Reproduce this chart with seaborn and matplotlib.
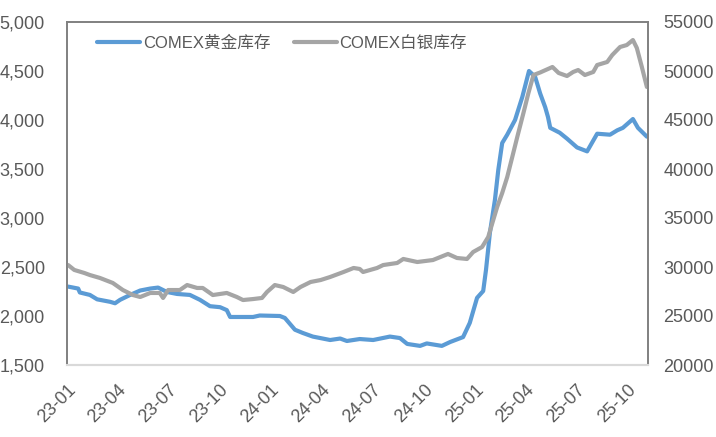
import pandas as pd
import matplotlib.pyplot as plt
import matplotlib.dates as mdates
import matplotlib.ticker as mticker
import seaborn as sns

# COMEX gold inventory (left axis)
gold_dates = [
    "2023-01-03", "2023-01-21", "2023-01-24", "2023-02-11", "2023-02-24", "2023-03-19",
    "2023-03-28", "2023-04-06", "2023-04-24", "2023-05-12", "2023-05-30", "2023-06-13",
    "2023-06-29", "2023-07-17", "2023-08-09", "2023-08-27", "2023-09-14", "2023-10-02",
    "2023-10-14", "2023-10-20", "2023-11-30", "2023-12-12", "2024-01-17", "2024-01-26",
    "2024-02-13", "2024-02-27", "2024-03-16", "2024-04-16", "2024-05-04", "2024-05-16",
    "2024-06-08", "2024-07-02", "2024-08-01", "2024-08-19", "2024-09-01", "2024-09-24",
    "2024-10-06", "2024-11-02", "2024-11-17", "2024-12-10", "2024-12-22", "2025-01-04",
    "2025-01-15", "2025-01-20", "2025-01-27", "2025-02-05", "2025-02-11", "2025-02-18",
    "2025-02-27", "2025-03-13", "2025-03-26", "2025-04-07", "2025-04-18", "2025-04-27",
    "2025-05-06", "2025-05-11", "2025-05-15", "2025-06-01", "2025-06-14", "2025-07-02",
    "2025-07-20", "2025-08-07", "2025-08-30", "2025-09-12", "2025-09-22", "2025-10-10",
    "2025-10-19", "2025-11-04",
]
gold_values = [
    2300, 2280, 2240, 2215, 2170, 2145,
    2130, 2165, 2215, 2260, 2280, 2290,
    2245, 2225, 2215, 2165, 2100, 2090,
    2060, 1990, 1990, 2005, 2000, 1980,
    1860, 1827, 1790, 1755, 1770, 1745,
    1765, 1755, 1790, 1775, 1715, 1695,
    1720, 1695, 1735, 1785, 1930, 2185,
    2255, 2470, 2850, 3185, 3490, 3765,
    3850, 4000, 4235, 4500, 4440, 4270,
    4130, 4030, 3920, 3870, 3810, 3720,
    3680, 3860, 3850, 3895, 3920, 4010,
    3920, 3830,
]

# COMEX silver inventory (right axis)
silver_dates = [
    "2023-01-03", "2023-01-14", "2023-02-01", "2023-02-11", "2023-03-01", "2023-03-24",
    "2023-04-11", "2023-04-29", "2023-05-12", "2023-05-30", "2023-06-16", "2023-06-22",
    "2023-07-01", "2023-07-22", "2023-08-04", "2023-08-22", "2023-09-01", "2023-09-19",
    "2023-10-14", "2023-11-01", "2023-11-12", "2023-11-30", "2023-12-16", "2023-12-25",
    "2024-01-08", "2024-01-23", "2024-02-10", "2024-02-23", "2024-03-12", "2024-03-30",
    "2024-04-16", "2024-05-10", "2024-05-28", "2024-06-08", "2024-06-14", "2024-07-09",
    "2024-07-20", "2024-08-14", "2024-08-25", "2024-09-19", "2024-10-17", "2024-11-13",
    "2024-11-29", "2024-12-17", "2024-12-28", "2025-01-13", "2025-01-24", "2025-02-02",
    "2025-02-09", "2025-02-18", "2025-02-27", "2025-03-08", "2025-03-17", "2025-03-28",
    "2025-04-06", "2025-04-15", "2025-04-27", "2025-05-19", "2025-05-30", "2025-06-14",
    "2025-06-25", "2025-07-04", "2025-07-16", "2025-07-31", "2025-08-07", "2025-08-25",
    "2025-09-03", "2025-09-17", "2025-09-29", "2025-10-10", "2025-10-17", "2025-10-26",
    "2025-11-04",
]
silver_values = [
    30200, 29700, 29390, 29180, 28880, 28370,
    27650, 27140, 26940, 27350, 27350, 26840,
    27650, 27650, 28160, 27860, 27860, 27140,
    27350, 26940, 26630, 26730, 26840, 27450,
    28160, 27960, 27450, 27960, 28470, 28670,
    28980, 29490, 29900, 29800, 29490, 29900,
    30200, 30410, 30820, 30510, 30710, 31330,
    30920, 30820, 31530, 32040, 33060, 34800,
    36120, 37550, 39180, 41220, 43270, 45710,
    47760, 49590, 49850, 50410, 49800, 49490,
    49900, 50100, 49590, 49900, 50610, 50920,
    51630, 52450, 52650, 53160, 52350, 50410,
    48370,
]

gold_label = "COMEX黄金库存"
silver_label = "COMEX白银库存"

gold_df = pd.DataFrame({"date": pd.to_datetime(gold_dates), "value": gold_values})
silver_df = pd.DataFrame({"date": pd.to_datetime(silver_dates), "value": silver_values})

sns.set_style("white")
plt.rcParams["font.family"] = ["Liberation Sans", "Noto Sans CJK SC", "DejaVu Sans"]

tick_color = "#595959"
fig = plt.figure(figsize=(7.16, 4.37), dpi=100)
ax = fig.add_axes([67 / 716, 1 - 365 / 437, (648 - 67) / 716, (365 - 22) / 437])
ax2 = ax.twinx()

sns.lineplot(data=gold_df, x="date", y="value", ax=ax, color="#5B9BD5",
             linewidth=3, label=gold_label, legend=False)
sns.lineplot(data=silver_df, x="date", y="value", ax=ax2, color="#A5A5A5",
             linewidth=3, label=silver_label, legend=False)

ax.set_xlim(pd.Timestamp("2023-01-01"), pd.Timestamp("2025-11-06"))
ax.set_ylim(1500, 5000)
ax2.set_ylim(20000, 55000)
ax.yaxis.set_major_locator(mticker.MultipleLocator(500))
ax.yaxis.set_major_formatter(mticker.StrMethodFormatter("{x:,.0f}"))
ax2.yaxis.set_major_locator(mticker.MultipleLocator(5000))
ax2.yaxis.set_major_formatter(mticker.StrMethodFormatter("{x:.0f}"))

ax.xaxis.set_major_locator(mdates.MonthLocator(bymonth=[1, 4, 7, 10]))
ax.xaxis.set_major_formatter(mdates.DateFormatter("%y-%m"))

ax.set_xlabel("")
ax.set_ylabel("")
ax2.set_ylabel("")
ax.grid(False)
ax2.grid(False)

ax.tick_params(axis="x", length=0, pad=12, labelsize=13, labelcolor=tick_color)
ax.tick_params(axis="y", length=0, pad=16, labelsize=13, labelcolor=tick_color)
ax2.tick_params(axis="y", length=0, pad=11, labelsize=13, labelcolor=tick_color)
for lbl in ax.get_xticklabels():
    lbl.set_rotation(45)
    lbl.set_ha("right")
    lbl.set_va("top")
    lbl.set_rotation_mode("anchor")

for a in (ax, ax2):
    for side in ("left", "top", "right"):
        a.spines[side].set_color("#808080")
        a.spines[side].set_linewidth(1.2)
    a.spines["bottom"].set_color("#d9d9d9")
    a.spines["bottom"].set_linewidth(1.5)

handles = ax.get_lines()[:1] + ax2.get_lines()[:1]
leg = ax.legend(handles, [gold_label, silver_label], loc="upper left",
                bbox_to_anchor=(0.026, 1.005), ncol=2, frameon=False,
                fontsize=12, handlelength=2.6, handletextpad=0.15,
                columnspacing=1.4, labelcolor=tick_color)
for h in leg.get_lines():
    h.set_linewidth(3)
    h.set_solid_capstyle("round")

fig.savefig("out.png", dpi=100)
